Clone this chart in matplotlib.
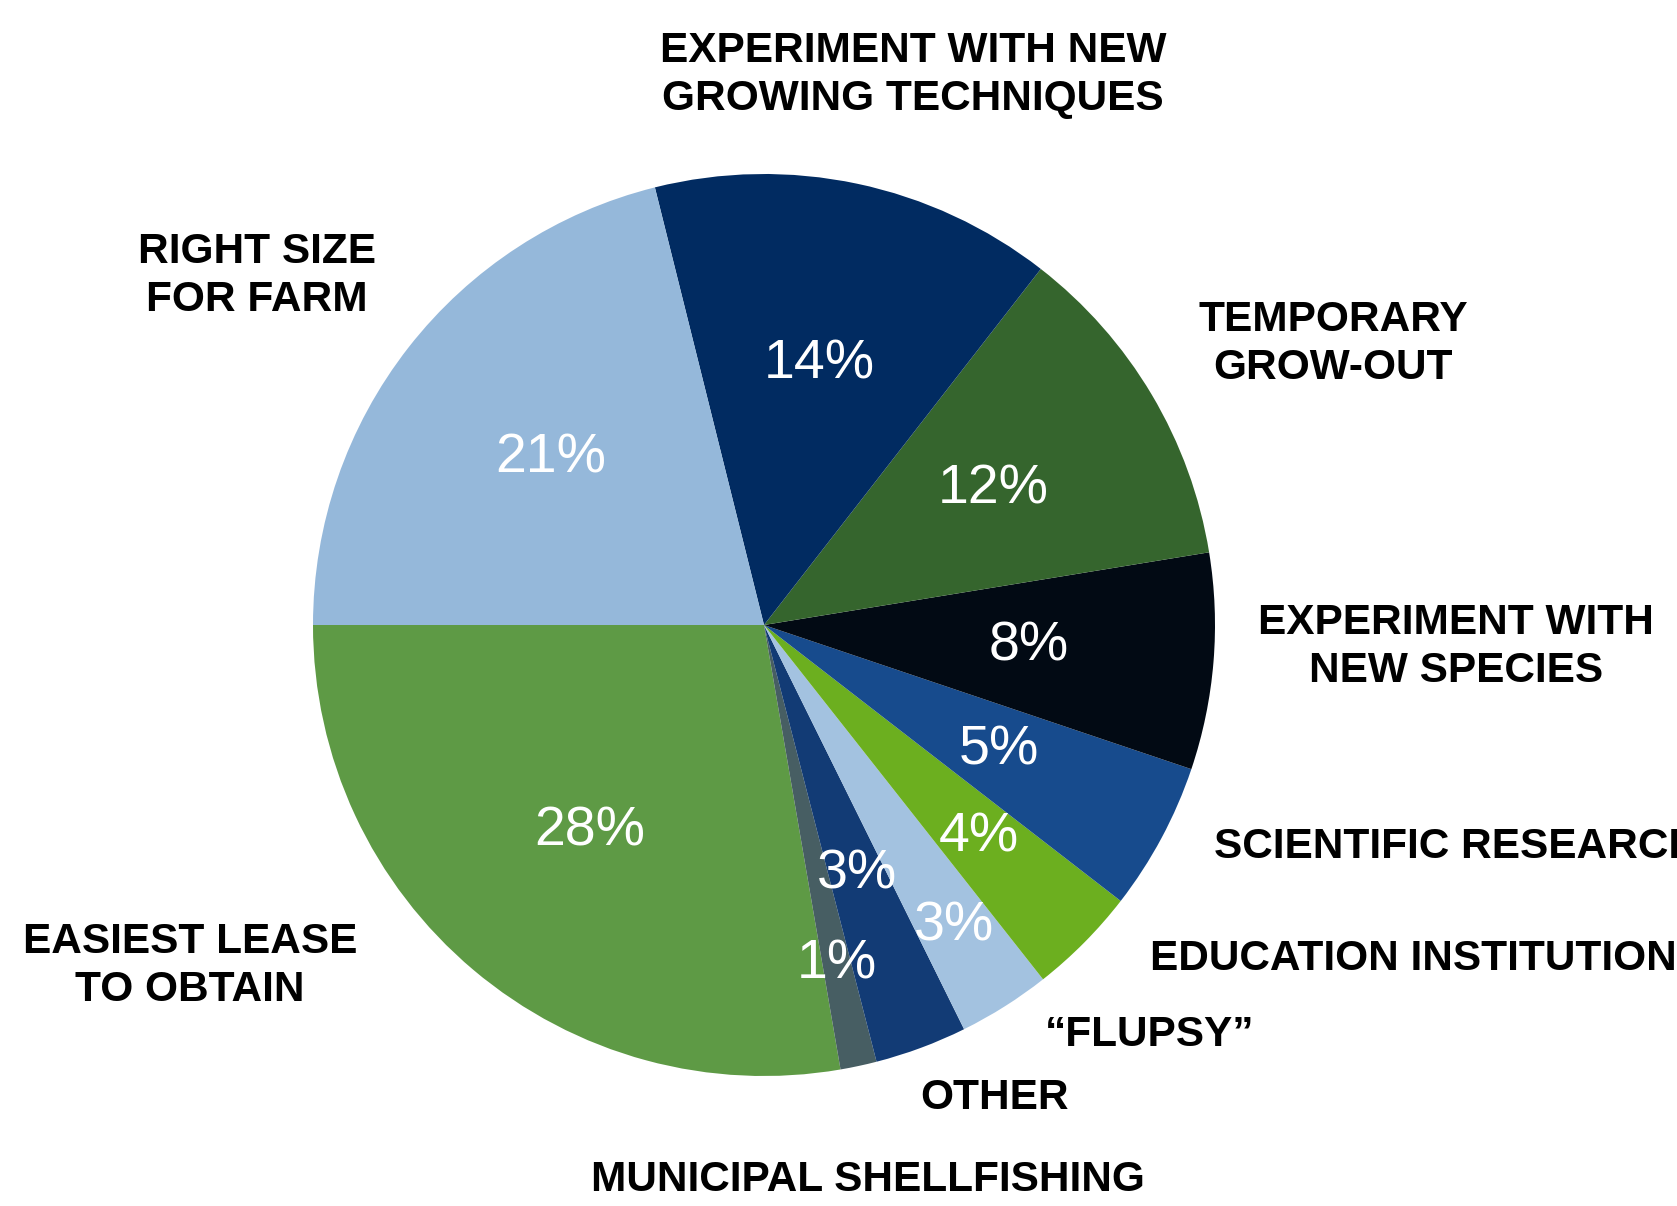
import matplotlib
matplotlib.use("Agg")
import matplotlib.pyplot as plt

# slice data, counterclockwise from 9 o'clock
categories = ["EASIEST LEASE\nTO OBTAIN", "MUNICIPAL SHELLFISHING", "OTHER", "\u201cFLUPSY\u201d",
              "EDUCATION INSTITUTION", "SCIENTIFIC RESEARCH", "EXPERIMENT WITH\nNEW SPECIES",
              "TEMPORARY\nGROW-OUT", "EXPERIMENT WITH NEW\nGROWING TECHNIQUES", "RIGHT SIZE\nFOR FARM"]
shares = [27.7, 1.3, 3.3, 3.3, 3.9, 5.3, 7.75, 11.9, 14.4, 21.1]
colors = ["#5E9A45", "#475E63", "#123B75", "#A3C2E0", "#6CAF1F",
          "#174B8D", "#020A14", "#35652D", "#012B61", "#95B8DA"]

# radial position of each percentage label (fraction of radius)
pct_dist = [0.6, 0.77, 0.59, 0.79, 0.67, 0.59, 0.59, 0.59, 0.59, 0.6]

# outer label placement in pixel coords (x, y from top, alignment)
label_pos = [(190, 966, "center"), (868, 1180, "center"), (995, 1098, "center"),
             (1150, 1035, "center"), (1150, 959, "left"), (1214, 847, "left"),
             (1456, 647, "center"), (1333, 344, "center"), (913, 75, "center"),
             (257, 276, "center")]

W, H = 1677, 1206
fig = plt.figure(figsize=(W / 100, H / 100), dpi=100)
ax = fig.add_axes([0, 0, 1, 1])

cx, cy, r = 764, H - 625, 451
wedges, _, autotexts = ax.pie(shares, colors=colors, startangle=180, counterclock=True,
                              center=(cx, cy), radius=r, autopct="%1.0f%%",
                              pctdistance=0.59, frame=True,
                              wedgeprops=dict(linewidth=0),
                              textprops=dict(color="white", fontsize=40,
                                             family="Liberation Sans"))
ax.set_xlim(0, W)
ax.set_ylim(0, H)
ax.set_aspect("equal")
ax.axis("off")

# push some percentage labels further out along their wedge
for t, d in zip(autotexts, pct_dist):
    x, y = t.get_position()
    t.set_position((cx + (x - cx) * d / 0.59, cy + (y - cy) * d / 0.59))

for name, (x, y, ha) in zip(categories, label_pos):
    ax.text(x, H - y, name, ha=ha, va="center", fontsize=30.5, fontweight="bold",
            family="Liberation Sans", color="black", linespacing=1.25, clip_on=False)

fig.savefig("out.png", dpi=100)
